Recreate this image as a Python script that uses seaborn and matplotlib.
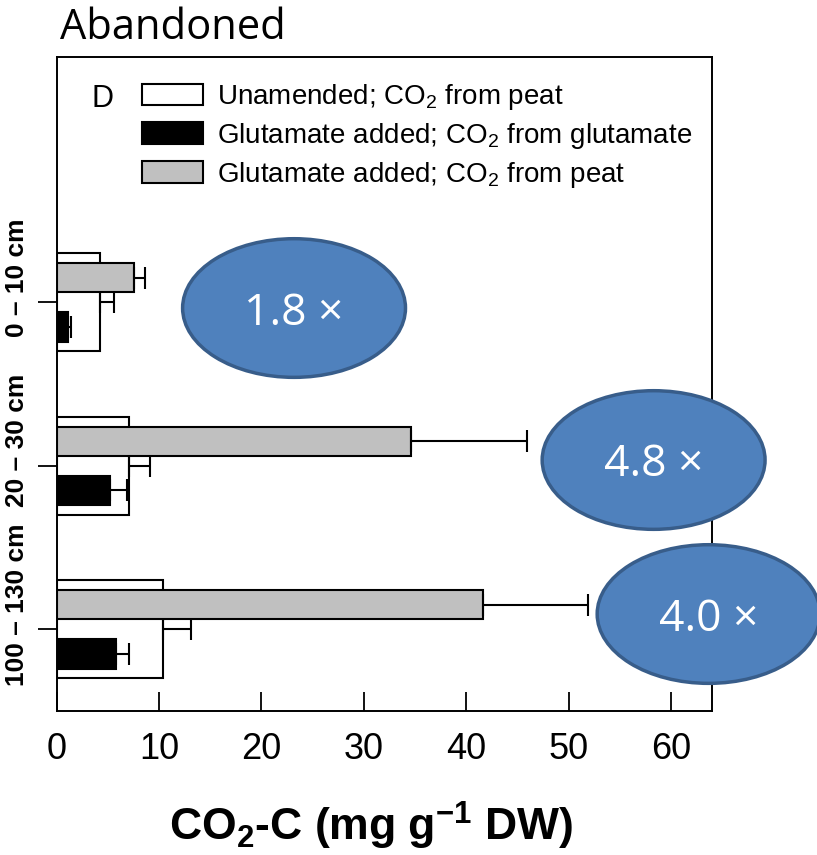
import matplotlib
matplotlib.use('Agg')
import matplotlib.pyplot as plt
import matplotlib.transforms as mtransforms
from matplotlib.patches import Ellipse, Patch
import numpy as np
import pandas as pd
import seaborn as sns

# values (mg g-1 DW)
depths = ['0 – 10 cm', '20 – 30 cm', '100 – 130 cm']
unamended = [4.25, 7.1, 10.4]
unamended_err = [1.35, 2.0, 2.7]
glut_peat = [7.55, 34.6, 41.6]
glut_peat_err = [1.1, 11.3, 10.3]
glut_glut = [1.1, 5.2, 5.8]
glut_glut_err = [0.3, 1.65, 1.3]
fold_labels = ['1.8 ×', '4.8 ×', '4.0 ×']

series_names = ['Unamended; CO$_2$ from peat',
                'Glutamate added; CO$_2$ from glutamate',
                'Glutamate added; CO$_2$ from peat']

sns.set_style('ticks')
plt.rcParams['font.family'] = ['Liberation Sans', 'DejaVu Sans']
plt.rcParams['mathtext.fontset'] = 'custom'
plt.rcParams['mathtext.rm'] = 'Liberation Sans'
plt.rcParams['mathtext.bf'] = 'Liberation Sans:bold'
plt.rcParams['mathtext.default'] = 'regular'
for k in ['text.color', 'axes.labelcolor', 'xtick.color', 'ytick.color']:
    plt.rcParams[k] = 'black'

fig = plt.figure(figsize=(8.17, 8.55), dpi=100)
ax = fig.add_axes([0.0692, 0.1684, 0.8024, 0.7649])

df_unam = pd.DataFrame({'depth': depths, 'value': unamended})
df_glut = pd.DataFrame({
    'depth': depths * 2,
    'value': glut_peat + glut_glut,
    'source': ['peat'] * 3 + ['glutamate'] * 3,
})

sns.barplot(data=df_unam, x='value', y='depth', orient='h', color='white',
            edgecolor='black', linewidth=1.5, width=0.6, saturation=1,
            errorbar=None, ax=ax)
sns.barplot(data=df_glut, x='value', y='depth', hue='source', orient='h',
            hue_order=['peat', 'glutamate'],
            palette={'peat': '#C0C0C0', 'glutamate': 'black'},
            edgecolor='black', linewidth=1.5, width=0.6, gap=0.4,
            saturation=1, dodge=True, errorbar=None, legend=False, ax=ax)

# one-sided error bars, placed at the drawn bars
for cont, err in zip(ax.containers, [unamended_err, glut_peat_err, glut_glut_err]):
    xs = [p.get_width() for p in cont.patches]
    ys = [p.get_y() + p.get_height() / 2 for p in cont.patches]
    ax.errorbar(xs, ys, xerr=[np.zeros(len(err)), err], fmt='none',
                ecolor='black', elinewidth=1.5, capsize=8, capthick=1.5, zorder=4)

ax.set_xlim(0, 64)
ax.set_ylim(2.5, -1.5)
ax.set_xticks(range(0, 61, 10))
ax.set_xlabel('')
ax.set_ylabel('')

# depth labels: rotated, sitting a little above their ticks like the original
yticks = ax.get_yticks()
ax.set_yticks(yticks)
ax.set_yticklabels([])
lab_tr = mtransforms.blended_transform_factory(ax.transAxes, ax.transData) + \
    mtransforms.ScaledTranslation(0, 0.25, fig.dpi_scale_trans)
for y, d in zip(yticks, depths):
    ax.text(-0.060, y, d, transform=lab_tr, rotation=90, ha='center',
            va='center', fontsize=19, fontweight='bold', clip_on=False)

for s in ax.spines.values():
    s.set_visible(True)
    s.set_linewidth(1.4)
    s.set_color('black')

ax.tick_params(axis='x', direction='in', length=14, width=1.3, pad=15,
               labelsize=26, bottom=True, top=False)
ax.tick_params(axis='y', direction='out', length=14, width=1.3,
               left=True, right=False)

fig.text(0.5 * (56.5 + 712) / 817 - 0.016, 1 - 826 / 855,
         'CO$_\\mathbf{2}$-C (mg g$^\\mathbf{-1}$ DW)',
         ha='center', va='center', fontsize=32, fontweight='bold')

fig.text(60 / 817, 1 - 39 / 855, 'Abandoned', family='Open Sans',
         fontsize=30, va='baseline', ha='left')

ax.text(0.054, 0.958, 'D', transform=ax.transAxes, fontsize=22,
        va='top', ha='left')

handles = [Patch(facecolor='white', edgecolor='black', linewidth=1.5),
           Patch(facecolor='black', edgecolor='black', linewidth=1.5),
           Patch(facecolor='#C0C0C0', edgecolor='black', linewidth=1.5)]
ax.legend(handles, series_names, loc='upper left',
          bbox_to_anchor=(0.1304, 0.962), frameon=False, fontsize=20,
          handlelength=2.2, handleheight=0.8, handletextpad=0.5,
          labelspacing=0.32, borderpad=0, borderaxespad=0)

# fold-change ellipses (axes fraction)
ell_pos = [(0.3623, 0.6162), (0.9108, 0.3838), (0.9947, 0.1483)]
for (cx, cy), lab in zip(ell_pos, fold_labels):
    ax.add_patch(Ellipse((cx, cy), 0.340, 0.212, transform=ax.transAxes,
                         facecolor='#4F81BD', edgecolor='#385D8A',
                         linewidth=2.5, clip_on=False, zorder=5))
    ax.text(cx, cy - 0.008, lab, transform=ax.transAxes, color='white',
            family='Open Sans', fontsize=32, ha='center', va='center', zorder=6)

fig.savefig('out.png', dpi=100)
